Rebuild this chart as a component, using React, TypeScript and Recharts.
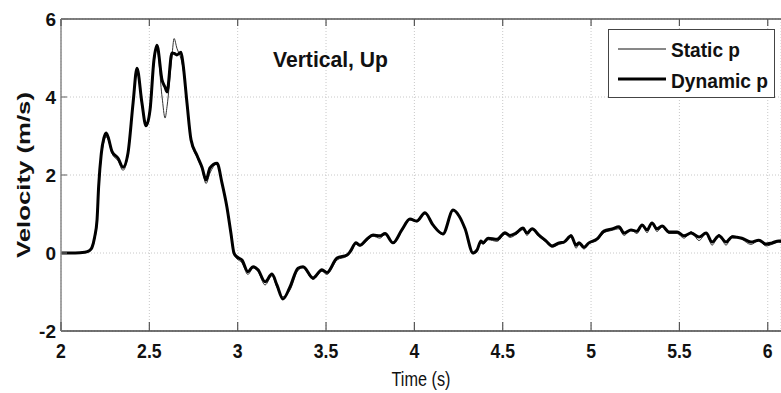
import React from "react";
import {
  LineChart,
  Line,
  XAxis,
  YAxis,
  CartesianGrid,
} from "recharts";

// sample times (s)
const time = [
  2.0, 2.08, 2.135, 2.16, 2.175, 2.19, 2.204, 2.213, 2.228, 2.243, 2.255, 2.266,
  2.289, 2.323, 2.351, 2.379, 2.408, 2.43, 2.458, 2.481, 2.504, 2.526, 2.543,
  2.572, 2.589, 2.6, 2.628, 2.64, 2.656, 2.679, 2.69, 2.713, 2.736, 2.77, 2.798,
  2.821, 2.843, 2.883, 2.911, 2.939, 2.962, 2.979, 2.996, 3.024, 3.058, 3.087,
  3.115, 3.155, 3.194, 3.222, 3.256, 3.296, 3.341, 3.37, 3.426, 3.477, 3.505,
  3.562, 3.619, 3.636, 3.67, 3.692, 3.732, 3.766, 3.805, 3.834, 3.879, 3.93,
  3.975, 4.014, 4.06, 4.105, 4.162, 4.219, 4.253, 4.287, 4.332, 4.355, 4.377,
  4.388, 4.417, 4.468, 4.513, 4.541, 4.575, 4.615, 4.637, 4.666, 4.705, 4.745,
  4.779, 4.819, 4.847, 4.887, 4.915, 4.932, 4.96, 4.988, 5.034, 5.073, 5.119,
  5.158, 5.187, 5.226, 5.26, 5.289, 5.317, 5.345, 5.373, 5.402, 5.441, 5.487,
  5.526, 5.566, 5.611, 5.651, 5.685, 5.724, 5.764, 5.798, 5.854, 5.905, 5.95,
  5.99, 6.024, 6.063, 6.08,
];

// velocity with the dynamic pressure model (m/s)
const dynamicP = [
  0, 0, 0.02, 0.06, 0.14, 0.4, 0.85, 1.7, 2.55, 2.95, 3.08, 2.98,
  2.6, 2.43, 2.2, 2.56, 3.85, 4.74, 3.85, 3.26, 3.67, 4.95, 5.33,
  4.43, 4.25, 4.13, 5.13, 5.12, 5.08, 5.15, 4.87, 3.85, 2.9, 2.5, 2.2,
  1.87, 2.18, 2.3, 1.8, 1.18, 0.5, 0.0, -0.1, -0.18, -0.48, -0.35,
  -0.43, -0.74, -0.54, -0.82, -1.18, -0.87, -0.39, -0.35, -0.64, -0.43, -0.5,
  -0.13, -0.05, 0.03, 0.26, 0.2, 0.36, 0.46, 0.44, 0.5, 0.26, 0.6,
  0.87, 0.82, 1.03, 0.72, 0.49, 1.1, 0.95, 0.62, 0.0, 0.08, 0.31,
  0.26, 0.38, 0.35, 0.52, 0.45, 0.51, 0.64, 0.51, 0.62, 0.46, 0.31,
  0.18, 0.26, 0.28, 0.44, 0.2, 0.26, 0.15, 0.26, 0.36, 0.56, 0.62,
  0.67, 0.51, 0.59, 0.56, 0.72, 0.59, 0.77, 0.62, 0.69, 0.54, 0.54,
  0.44, 0.51, 0.41, 0.51, 0.28, 0.44, 0.28, 0.41, 0.38, 0.28, 0.33,
  0.23, 0.26, 0.31, 0.3,
];

// velocity with the static pressure model (m/s)
const staticP = [
  0, 0, 0.02, 0.06, 0.12, 0.35, 0.8, 1.6, 2.45, 2.85, 2.98, 2.92,
  2.55, 2.36, 2.12, 2.5, 3.8, 4.68, 3.8, 3.24, 3.6, 4.85, 5.22,
  4.0, 3.46, 3.75, 5.05, 5.5, 5.25, 4.98, 4.75, 3.8, 2.88, 2.45, 2.15,
  1.78, 2.05, 2.28, 1.78, 1.15, 0.48, -0.05, -0.15, -0.25, -0.55, -0.38,
  -0.47, -0.82, -0.58, -0.88, -1.12, -0.95, -0.45, -0.38, -0.68, -0.47, -0.55,
  -0.18, -0.08, 0.0, 0.22, 0.18, 0.32, 0.43, 0.38, 0.47, 0.24, 0.57,
  0.85, 0.8, 1.0, 0.7, 0.47, 1.08, 0.93, 0.6, -0.02, 0.05, 0.28,
  0.22, 0.34, 0.3, 0.48, 0.4, 0.47, 0.6, 0.45, 0.6, 0.42, 0.28,
  0.15, 0.22, 0.26, 0.47, 0.12, 0.22, 0.1, 0.24, 0.32, 0.52, 0.58,
  0.62, 0.45, 0.6, 0.5, 0.7, 0.52, 0.76, 0.55, 0.68, 0.5, 0.5,
  0.38, 0.55, 0.32, 0.5, 0.2, 0.48, 0.2, 0.45, 0.35, 0.22, 0.32,
  0.18, 0.22, 0.28, 0.26,
];

const xTicks = [2, 2.5, 3, 3.5, 4, 4.5, 5, 5.5, 6];
const yTicks = [-2, 0, 2, 4, 6];

const data = time.map((t, i) => ({
  t,
  staticP: staticP[i],
  dynamicP: dynamicP[i],
}));

const FONT = '"Liberation Sans", Arial, Helvetica, sans-serif';

// squeezed width for bold digit labels (digits 0.556em, dot 0.278em)
const narrowWidth = (label: string, size: number) =>
  label.split("").reduce((w, ch) => w + (ch === "." ? 0.278 : 0.556), 0) * size * 0.84;

const BottomTick = ({ x, y, payload }: any) => {
  const label = String(payload.value);
  return (
    <g>
      <line x1={x} x2={x} y1={y} y2={y - 9} stroke="#555" strokeWidth={1.2} />
      <text
        x={x}
        y={y + 27}
        textAnchor="middle"
        fontFamily={FONT}
        fontWeight="bold"
        fontSize={21}
        fill="#111"
        textLength={narrowWidth(label, 21)}
        lengthAdjust="spacingAndGlyphs"
      >
        {label}
      </text>
    </g>
  );
};

const TopTick = ({ x, y }: any) => (
  <line x1={x} x2={x} y1={y} y2={y + 7} stroke="#555" strokeWidth={1.2} />
);

const LeftTick = ({ x, y, payload }: any) => (
  <g>
    <line x1={x} x2={x + 6} y1={y} y2={y} stroke="#777" strokeWidth={1.2} />
    <text
      x={x - 5}
      y={y + 7}
      textAnchor="end"
      fontFamily={FONT}
      fontWeight="bold"
      fontSize={19}
      fill="#111"
    >
      {payload.value}
    </text>
  </g>
);

const LegendBox = () => (
  <svg width={168} height={70} style={{ display: "block" }}>
    <rect x={0.5} y={0.5} width={166} height={68} fill="#fff" stroke="#444" strokeWidth={1} />
    <line x1={10} x2={58} y1={20} y2={20} stroke="#111" strokeWidth={1} />
    <line x1={10} x2={58} y1={50} y2={50} stroke="#000" strokeWidth={3} />
    <text x={63} y={28} fontFamily={FONT} fontWeight="bold" fontSize={20} fill="#111" textLength={69} lengthAdjust="spacingAndGlyphs">
      Static p
    </text>
    <text x={63} y={59} fontFamily={FONT} fontWeight="bold" fontSize={20} fill="#111" textLength={97} lengthAdjust="spacingAndGlyphs">
      Dynamic p
    </text>
  </svg>
);

export default function App() {
  return (
    <div style={{ position: "absolute", left: 0, top: 0, width: 781, height: 393, background: "#fff" }}>
      <LineChart
        width={781}
        height={393}
        data={data}
        margin={{ top: 0, right: 0, bottom: 0, left: 0 }}
      >
        <CartesianGrid stroke="#c8c8c8" strokeDasharray="1 2" />
        <XAxis
          dataKey="t"
          type="number"
          domain={[2, 6.075]}
          ticks={xTicks}
          allowDataOverflow
          height={62}
          tickSize={0}
          tickMargin={0}
          tickLine={false}
          tick={<BottomTick />}
          axisLine={{ stroke: "#444", strokeWidth: 1.5 }}
          label={{
            content: ({ viewBox }: any) => (
              <text
                x={viewBox.x + viewBox.width / 2}
                y={viewBox.y + 55}
                textAnchor="middle"
                fontFamily={FONT}
                fontSize={20}
                fill="#111"
                textLength={59}
                lengthAdjust="spacingAndGlyphs"
              >
                Time (s)
              </text>
            ),
          }}
        />
        <XAxis
          xAxisId="top"
          dataKey="t"
          type="number"
          orientation="top"
          domain={[2, 6.075]}
          ticks={xTicks}
          allowDataOverflow
          height={19}
          tickSize={0}
          tickMargin={0}
          tickLine={false}
          tick={<TopTick />}
          axisLine={{ stroke: "#555", strokeWidth: 1.5 }}
        />
        <YAxis
          type="number"
          domain={[-2, 6]}
          ticks={yTicks}
          width={61}
          tickSize={0}
          tickMargin={0}
          tickLine={false}
          tick={<LeftTick />}
          axisLine={{ stroke: "#888", strokeWidth: 1.5 }}
          label={{
            content: ({ viewBox }: any) => {
              const cx = 30;
              const cy = viewBox.y + viewBox.height / 2;
              return (
                <text
                  x={cx}
                  y={cy}
                  transform={`rotate(-90 ${cx} ${cy})`}
                  textAnchor="middle"
                  fontFamily={FONT}
                  fontWeight="bold"
                  fontSize={19}
                  fill="#111"
                  textLength={166}
                  lengthAdjust="spacingAndGlyphs"
                >
                  Velocity (m/s)
                </text>
              );
            },
          }}
        />
        <Line
          type="monotone"
          dataKey="staticP"
          name="Static p"
          stroke="#333"
          strokeWidth={1}
          dot={false}
          isAnimationActive={false}
        />
        <Line
          type="monotone"
          dataKey="dynamicP"
          name="Dynamic p"
          stroke="#000"
          strokeWidth={3}
          dot={false}
          isAnimationActive={false}
        />
      </LineChart>
      <div style={{ position: "absolute", left: 608, top: 29 }}>
        <LegendBox />
      </div>
      <svg
        width={781}
        height={393}
        style={{ position: "absolute", left: 0, top: 0, pointerEvents: "none" }}
      >
        <text
          x={273}
          y={67}
          fontFamily={FONT}
          fontWeight="bold"
          fontSize={22}
          fill="#111"
          textLength={115}
          lengthAdjust="spacingAndGlyphs"
        >
          Vertical, Up
        </text>
      </svg>
    </div>
  );
}
